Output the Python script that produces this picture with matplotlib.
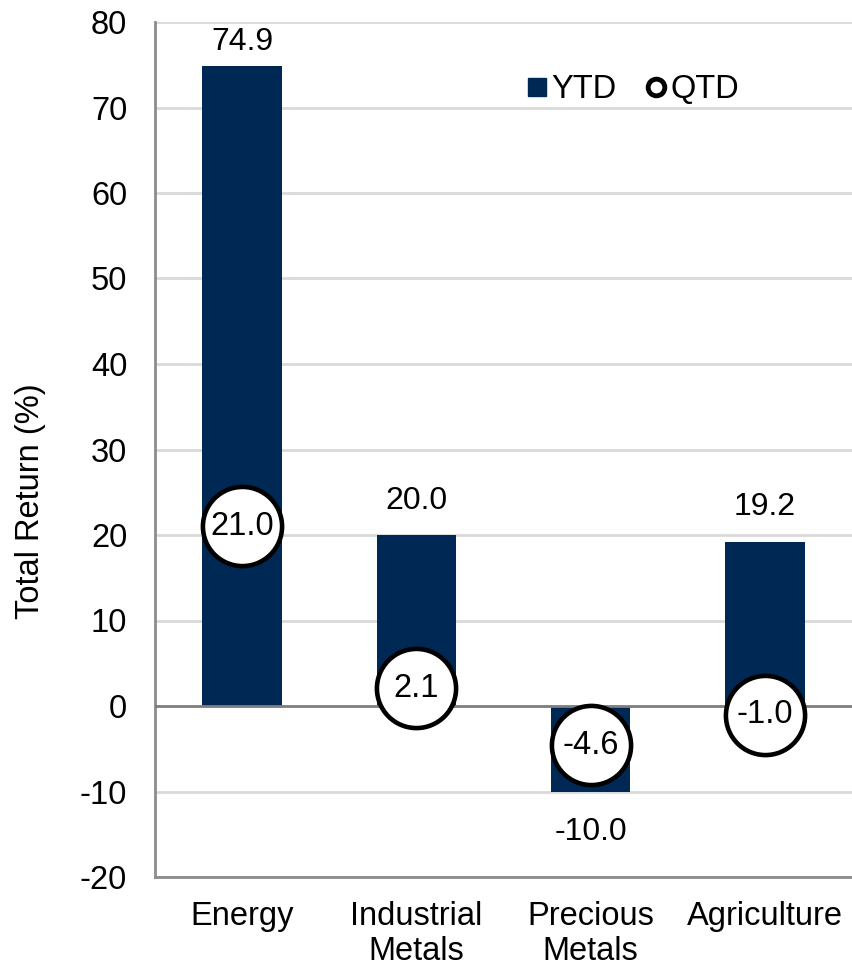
import matplotlib.pyplot as plt
from matplotlib.lines import Line2D

# Commodity sector returns
categories = ["Energy", "Industrial\nMetals", "Precious\nMetals", "Agriculture"]
ytd = [74.9, 20.0, -10.0, 19.2]
qtd = [21.0, 2.1, -4.6, -1.0]

NAVY = "#002855"
plt.rcParams["font.family"] = ["Liberation Sans", "DejaVu Sans"]
plt.rcParams["axes.unicode_minus"] = False

fig = plt.figure(figsize=(8.52, 9.66), dpi=100)
ax = fig.add_axes([155 / 852, 1 - 877 / 966, 697 / 852, 855 / 966])

x = range(len(categories))
ax.bar(x, ytd, width=0.455, color=NAVY, zorder=2)

# YTD labels above / below the bars (the tallest one sits tighter under the top)
for xi, v in zip(x, ytd):
    if v >= 0:
        gap = 6 if v > 70 else 14
        ax.annotate(f"{v:.1f}", (xi, v), xytext=(0, gap), textcoords="offset points",
                    ha="center", va="bottom", fontsize=23)
    else:
        ax.annotate(f"{v:.1f}", (xi, v), xytext=(0, -18), textcoords="offset points",
                    ha="center", va="top", fontsize=23)

# QTD markers with value inside
ax.plot(x, qtd, linestyle="none", marker="o", markersize=57, markerfacecolor="white",
        markeredgecolor="black", markeredgewidth=3.3, zorder=4)
for xi, v in zip(x, qtd):
    ax.text(xi, v, f"{v:.1f}", ha="center", va="center", fontsize=23.5, zorder=5)

ax.set_xlim(-0.5, 3.5)
ax.set_ylim(-20, 80)
ax.set_yticks(range(-20, 81, 10))
ax.set_xticks(list(x))
ax.set_xticklabels(categories, fontsize=23.5, linespacing=1.2)
ax.tick_params(axis="y", labelsize=23.5, length=0, pad=20)
ax.tick_params(axis="x", length=0, pad=17)
ax.set_ylabel("Total Return (%)", fontsize=23.5)
ax.yaxis.set_label_coords(-0.156, 0.44)

ax.grid(axis="y", color="#d9d9d9", linewidth=2, zorder=0)
ax.set_axisbelow(True)
ax.axhline(0, color="#7f7f7f", linewidth=2, zorder=3)

for side in ["top", "right"]:
    ax.spines[side].set_visible(False)
for side in ["left", "bottom"]:
    ax.spines[side].set_color("#8c8c8c")
    ax.spines[side].set_linewidth(2)

handles = [
    Line2D([], [], linestyle="none", marker="s", markersize=13, color=NAVY),
    Line2D([], [], linestyle="none", marker="o", markersize=12, markerfacecolor="white",
           markeredgecolor="black", markeredgewidth=3.5),
]
ax.legend(handles, ["YTD", "QTD"], loc="center left", bbox_to_anchor=(0.51, 0.921),
          ncol=2, frameon=False, fontsize=23.5, handlelength=0.6, handletextpad=0.15,
          columnspacing=0.9, borderpad=0)

fig.savefig("out.png", dpi=100)
